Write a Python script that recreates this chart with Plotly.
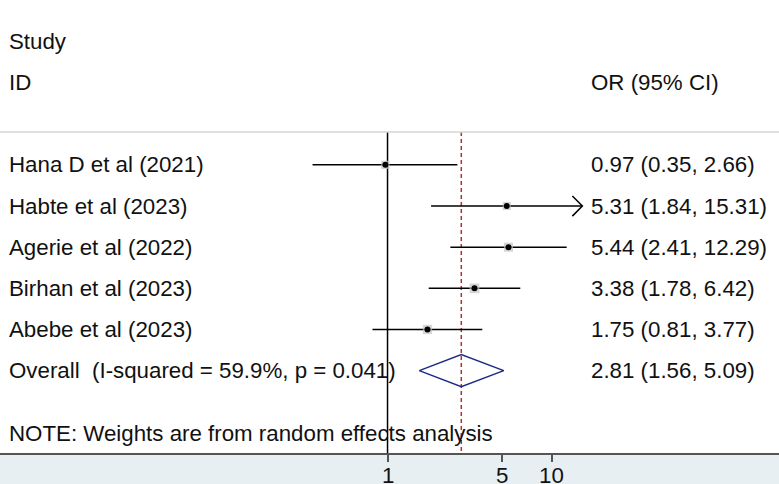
import plotly.graph_objects as go
import math

# ---- data ----
studies = ["Hana D et al (2021)", "Habte et al (2023)", "Agerie et al (2022)",
           "Birhan et al (2023)", "Abebe et al (2023)"]
or_est = [0.97, 5.31, 5.44, 3.38, 1.75]
ci_low = [0.35, 1.84, 2.41, 1.78, 0.81]
ci_high = [2.66, 15.31, 12.29, 6.42, 3.77]
weights = [17.2, 16.5, 20.6, 24.1, 21.5]  # estimated random-effects weights (%)
overall_label = "Overall\u00a0 (I-squared = 59.9%, p = 0.041)"
overall_est, overall_low, overall_high = 2.81, 1.56, 5.09
arrow_studies = ["Habte et al (2023)"]  # CI clipped with arrow
tick_vals = [1, 5, 10]
tick_text = ["1", "5", "10"]
note_text = "NOTE: Weights are from random effects analysis"

FONT = "Liberation Sans, Arial, Helvetica, sans-serif"
FS = 22.3
rows = list(range(len(studies)))
overall_row = len(studies)

fig = go.Figure()

# reference line at 1 and dashed overall line
fig.add_trace(go.Scatter(x=[1, 1], y=[-0.8, 7], mode="lines",
                         line=dict(color="black", width=1.5), hoverinfo="skip"))
fig.add_trace(go.Scatter(x=[overall_est, overall_est], y=[-0.8, 7], mode="lines",
                         line=dict(color="#b3302d", width=1.5, dash="4px,3px"),
                         hoverinfo="skip"))

# CI lines
for i, (lo, hi) in enumerate(zip(ci_low, ci_high)):
    fig.add_trace(go.Scatter(x=[lo, hi], y=[i, i], mode="lines",
                             line=dict(color="black", width=1.5), hoverinfo="skip"))
    if studies[i] in arrow_studies:
        back = hi / 10 ** (10 / 164.4)
        fig.add_trace(go.Scatter(x=[back, hi, back], y=[i - 0.245, i, i + 0.245],
                                 mode="lines", line=dict(color="black", width=1.5),
                                 hoverinfo="skip"))

# weight boxes
fig.add_trace(go.Scatter(x=or_est, y=rows, mode="markers",
                         marker=dict(symbol="square", color="#c4c4c4",
                                     size=[2.0 * math.sqrt(w) for w in weights],
                                     line=dict(width=0)),
                         hoverinfo="skip"))
# point estimates
fig.add_trace(go.Scatter(x=or_est, y=rows, mode="markers",
                         marker=dict(symbol="circle", color="black", size=6),
                         hoverinfo="skip"))

# overall diamond
h = 0.39
fig.add_trace(go.Scatter(x=[overall_low, overall_est, overall_high, overall_est, overall_low],
                         y=[overall_row, overall_row - h, overall_row, overall_row + h, overall_row],
                         mode="lines", line=dict(color="#1c2a85", width=1.5),
                         hoverinfo="skip"))

# text
xl = 7 / 779
xr = 589 / 779
ann = []
def txt(x, y, t):
    ann.append(dict(x=x, y=y, xref="paper", yref="y", text=t, showarrow=False,
                    xanchor="left", yanchor="middle",
                    font=dict(family=FONT, size=FS, color="#111111")))

txt(xl, -3, "Study")
txt(xl, -2, "ID")
txt(xr, -2, "OR (95% CI)")
for i, s in enumerate(studies):
    txt(xl, i, s)
    txt(xr, i, f"{or_est[i]:.2f} ({ci_low[i]:.2f}, {ci_high[i]:.2f})")
txt(xl, overall_row, overall_label)
txt(xr, overall_row, f"{overall_est:.2f} ({overall_low:.2f}, {overall_high:.2f})")
txt(xl, 6.53, note_text)

# x tick labels just below the axis
for tv, tt in zip(tick_vals, tick_text):
    ann.append(dict(x=math.log10(tv), y=-0.0486, xref="x", yref="paper", text=tt,
                    showarrow=False, xanchor="center", yanchor="middle",
                    font=dict(family=FONT, size=FS, color="#111111")))

fig.update_layout(
    width=779, height=484,
    margin=dict(l=0, r=0, t=0, b=31, autoexpand=False),
    paper_bgcolor="#e8eff2",
    plot_bgcolor="white",
    showlegend=False,
    annotations=ann,
    shapes=[dict(type="line", xref="paper", yref="y", x0=0, x1=1, y0=-0.8, y1=-0.8,
                 line=dict(color="#d6d6d6", width=1.5))],
    xaxis=dict(type="log", range=[-2.357, 2.381], tickvals=tick_vals,
               showticklabels=False,
               ticks="outside", ticklen=7, tickwidth=1.5, tickcolor="#555555",
               showline=True, linecolor="#555555", linewidth=2,
               showgrid=False, zeroline=False, fixedrange=True, automargin=False),
    yaxis=dict(range=[7, -4.005], visible=False, showgrid=False, zeroline=False,
               fixedrange=True, automargin=False),
)

fig.write_html("out.html", config={"displayModeBar": False},
               post_script="document.body.style.margin='0';document.body.style.padding='0';")
